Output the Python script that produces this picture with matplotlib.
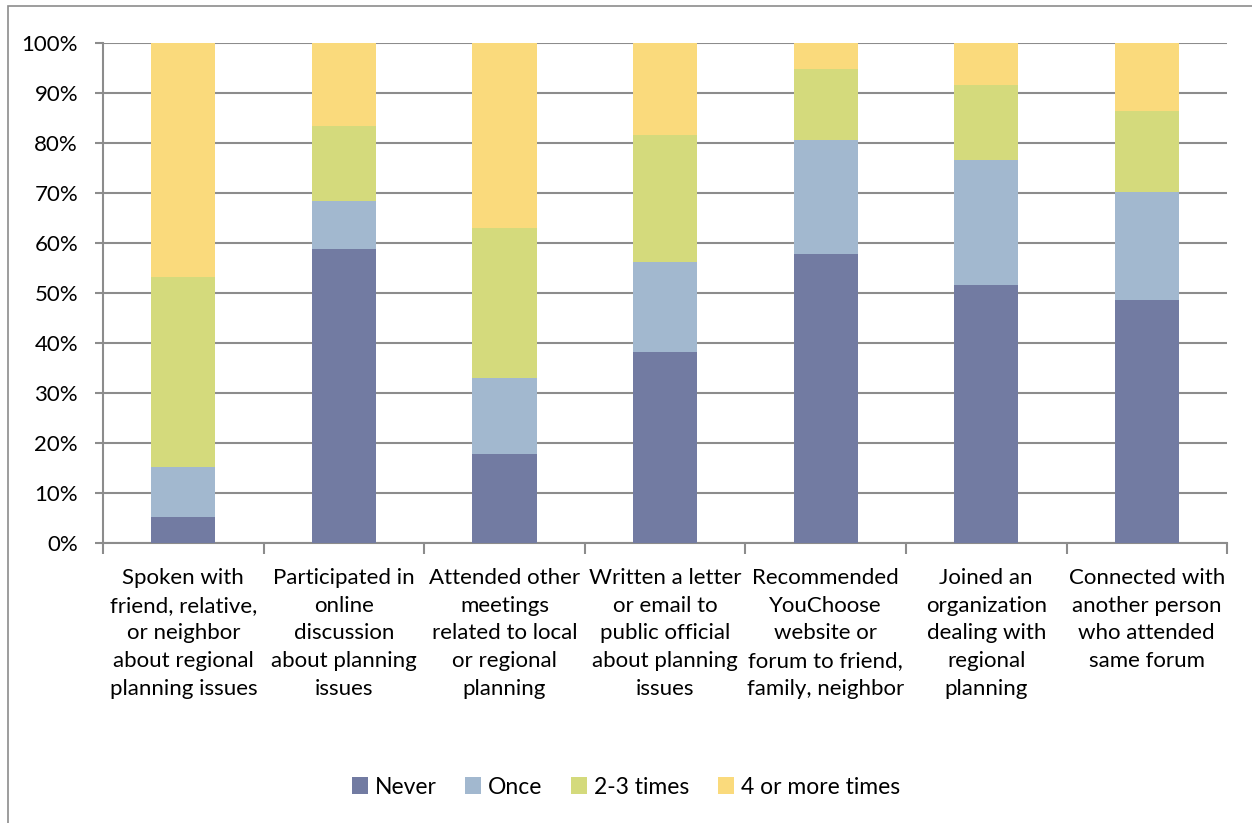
import numpy as np
import matplotlib.pyplot as plt
from matplotlib.patches import Rectangle

categories = [
    "Spoken with\nfriend, relative,\nor neighbor\nabout regional\nplanning issues",
    "Participated in\nonline\ndiscussion\nabout planning\nissues",
    "Attended other\nmeetings\nrelated to local\nor regional\nplanning",
    "Written a letter\nor email to\npublic official\nabout planning\nissues",
    "Recommended\nYouChoose\nwebsite or\nforum to friend,\nfamily, neighbor",
    "Joined an\norganization\ndealing with\nregional\nplanning",
    "Connected with\nanother person\nwho attended\nsame forum",
]
series_names = ["Never", "Once", "2-3 times", "4 or more times"]
never = [5.3, 58.7, 17.9, 38.1, 57.7, 51.6, 48.5]
once = [10.0, 9.6, 15.0, 18.0, 22.8, 24.9, 21.7]
two_three = [37.8, 15.0, 30.0, 25.4, 14.3, 15.0, 16.1]
four_plus = [46.9, 16.7, 37.1, 18.5, 5.2, 8.5, 13.7]
colors = ["#727ba2", "#a2b8cf", "#d4da7c", "#fada7c"]

plt.rcParams['font.family'] = ['Lato', 'DejaVu Sans']

fig = plt.figure(figsize=(12.52, 8.23), dpi=100)
ax = fig.add_axes([0.0823, 0.3402, 0.8978, 0.6076])

x = np.arange(len(categories))
bottom = np.zeros(len(categories))
for name, vals, c in zip(series_names, [never, once, two_three, four_plus], colors):
    vals = np.array(vals)
    ax.bar(x, vals, 0.4, bottom=bottom, color=c, label=name, zorder=3)
    bottom += vals

ax.set_xlim(-0.5, len(categories) - 0.5)
ax.set_ylim(0, 100)
ax.set_yticks(np.arange(0, 101, 10))
ax.set_yticklabels([f"{v}%" for v in range(0, 101, 10)], fontsize=16)
ax.yaxis.grid(True, color="#8c8c8c", linewidth=1.5, zorder=0)

ax.set_xticks(x)
ax.set_xticklabels(categories, fontsize=16, linespacing=1.48)
ax.set_xticks(np.arange(-0.5, len(categories), 1), minor=True)
ax.tick_params(axis="x", which="major", length=0, pad=18)
ax.tick_params(axis="x", which="minor", length=8, color="#8c8c8c", width=1.5)
ax.tick_params(axis="y", length=6, color="#8c8c8c", width=1.5, pad=12)

for s in ["top", "right"]:
    ax.spines[s].set_visible(False)
for s in ["left", "bottom"]:
    ax.spines[s].set_color("#8c8c8c")
    ax.spines[s].set_linewidth(1.5)

fig.legend(loc="center", bbox_to_anchor=(0.5, 1 - 787 / 823), ncol=4,
           frameon=False, fontsize=16.5, handlelength=0.7, handleheight=0.7,
           handletextpad=0.3, columnspacing=1.25)

fig.patches.append(Rectangle((8 / 1252, -0.1), 1.2, 1 - 6 / 823 + 0.1,
                             transform=fig.transFigure, fill=False,
                             edgecolor="#8c8c8c", linewidth=1.2))

fig.savefig("out.png", dpi=100)
